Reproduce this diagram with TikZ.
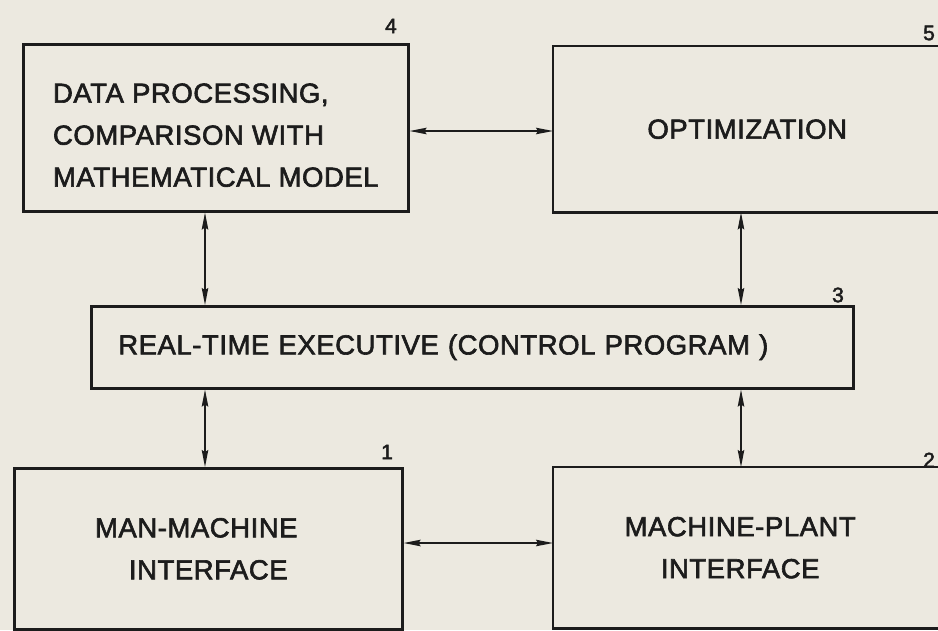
\documentclass[tikz,border=0pt]{standalone}
\usepackage{fontspec}
\setmainfont{Liberation Sans}[LetterSpace=2, FakeBold=2.2]
\usetikzlibrary{arrows.meta}
\definecolor{paper}{RGB}{236,233,224}
\definecolor{ink}{RGB}{28,28,28}
\tikzset{
  frame/.style={draw=ink, line width=2.6pt, line join=miter},
  blk/.style={inner ysep=0pt, text=ink, font=\fontsize{27.5}{42}\selectfont},
  openblk/.style={blk, draw=none, align=center, text width=330pt, inner xsep=0pt},
  link/.style={draw=ink, line width=1.3pt,
    {Stealth[length=17pt,width=6.5pt,inset=2pt]}-{Stealth[length=17pt,width=6.5pt,inset=2pt]}},
  tag/.style={text=ink, font=\fontsize{21}{21}\selectfont, inner sep=0pt}
}
\begin{document}
\begin{tikzpicture}[x=1pt, y=-1pt]
  % paper
  \fill[paper] (0,0) rectangle (938,630);
  \useasboundingbox (0,0) rectangle (938,630);
  \clip (0,0) rectangle (938,630);

  % 4: data processing
  \node[blk, frame, anchor=north west, align=left, inner xsep=26pt,
        minimum width=385pt, minimum height=167pt] (b4) at (22,43)
    {\rule{0pt}{34pt}DATA PROCESSING,\\COMPARISON WITH\\MATHEMATICAL MODEL};

  % 5: optimization (runs off the right edge)
  \node[openblk, anchor=north west, minimum width=388pt, minimum height=166pt] (b5) at (553,46)
    {OPTIMIZATION};
  \draw[frame] ([xshift=30pt]b5.north east) -- (b5.north west) -- (b5.south west)
    -- ([xshift=30pt]b5.south east);

  % 3: real-time executive
  \node[blk, frame, anchor=north west, align=left, inner xsep=27pt,
        text width=708pt, minimum height=82pt] (b3) at (90,305)
    {REAL-TIME EXECUTIVE (CONTROL PROGRAM )};

  % 1: man-machine interface
  \node[blk, frame, anchor=north west, align=center, inner xsep=0pt,
        text width=388pt, minimum height=161pt] (b1) at (13,467)
    {\mbox{MAN-MACHINE\kern24pt}\\INTERFACE};

  % 2: machine-plant interface (runs off the right edge)
  \node[openblk, anchor=north west, minimum width=374pt, minimum height=161pt] (b2) at (553,467)
    {MACHINE-PLANT\\INTERFACE};
  \draw[frame] ([xshift=30pt]b2.north east) -- (b2.north west) -- (b2.south west)
    -- ([xshift=30pt]b2.south east);

  % block numbers
  \node[tag] (n4) at (391,26) {4};
  \node[tag] (n5) at (929,33) {5};
  \node[tag] (n3) at (838,295) {3};
  \node[tag] (n1) at (387,452) {1};
  \node[tag] (n2) at (929,460) {2};

  % guide lines for the connectors
  \coordinate (top) at (0,131);
  \coordinate (bot) at (0,543);
  \coordinate (lft) at (205,0);
  \coordinate (rgt) at (741,0);

  % connectors
  \draw[link] (b4.east |- top) -- (b5.west |- top);
  \draw[link] (b1.east |- bot) -- (b2.west |- bot);
  \draw[link] (lft |- b4.south) -- (lft |- b3.north);
  \draw[link] (rgt |- b5.south) -- (rgt |- b3.north);
  \draw[link] (lft |- b3.south) -- (lft |- b1.north);
  \draw[link] (rgt |- b3.south) -- (rgt |- b2.north);
\end{tikzpicture}
\end{document}
